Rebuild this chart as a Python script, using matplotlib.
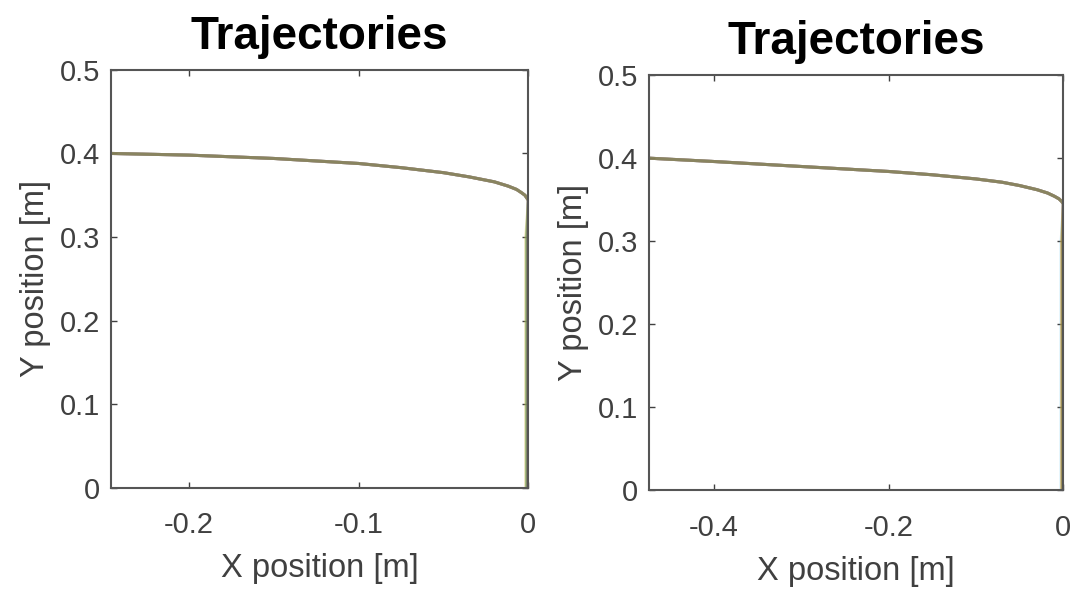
import numpy as np
import matplotlib.pyplot as plt

plt.rcParams['font.family'] = ['Liberation Sans', 'DejaVu Sans']
plt.rcParams['axes.unicode_minus'] = False

# left panel: shared approach curve (x, y) and the final drop near x = 0
left_curve_x = [-0.246, -0.2, -0.15, -0.1, -0.075, -0.05, -0.035, -0.02,
                -0.012, -0.007, -0.004, -0.002, -0.001, 0.0]
left_curve_y = [0.400, 0.398, 0.394, 0.388, 0.383, 0.377, 0.372, 0.366,
                0.361, 0.357, 0.353, 0.350, 0.347, 0.344]
left_drop_x = [-0.0003, -0.0012, 0.0, -0.0008, -0.0015, -0.0005, -0.001]

# right panel
right_curve_x = [-0.474, -0.4, -0.3, -0.2, -0.15, -0.1, -0.07, -0.05, -0.03,
                 -0.018, -0.01, -0.005, -0.002, 0.0]
right_curve_y = [0.400, 0.396, 0.390, 0.384, 0.380, 0.375, 0.371, 0.367, 0.362,
                 0.358, 0.354, 0.351, 0.348, 0.345]
right_drop_x = [-0.001, -0.0025, -0.0015, 0.0, -0.002, -0.0005, -0.001]

drop_y = [0.30, 0.20, 0.10, 0.0]

yticks = [0, 0.1, 0.2, 0.3, 0.4, 0.5]
ytick_labels = ['0', '0.1', '0.2', '0.3', '0.4', '0.5']
left_xticks = [-0.2, -0.1, 0]
left_xtick_labels = ['-0.2', '-0.1', '0']
right_xticks = [-0.4, -0.2, 0]
right_xtick_labels = ['-0.4', '-0.2', '0']

# drawn in this order, so the last ones sit on top
run_colors = ['#A2142F', '#4DBEEE', '#D95319', '#0072BD', '#EDB120', '#7E2F8E', '#77AC30']

fig = plt.figure(figsize=(10.73, 5.92), dpi=100)
ax1 = fig.add_axes([0.1034, 0.176, 0.389, 0.706])
ax2 = fig.add_axes([0.605, 0.172, 0.386, 0.701])


def draw_panel(ax, cx, cy, dx, xticks, xlabels, xmin):
    for c, d in zip(run_colors, dx):
        xs = list(cx) + [d] * len(drop_y)
        ys = list(cy) + drop_y
        ax.plot(xs, ys, color=c, lw=2.2, alpha=0.35, solid_joinstyle='round')
    ax.set_xlim(xmin, 0)
    ax.set_ylim(0, 0.5)
    ax.set_xticks(xticks)
    ax.set_xticklabels(xlabels)
    ax.set_yticks(yticks)
    ax.set_yticklabels(ytick_labels)
    ax.tick_params(direction='in', length=4, width=1, colors='#404040',
                   labelsize=21, top=True, right=True)
    ax.tick_params(axis='x', pad=17)
    ax.tick_params(axis='y', pad=8)
    for s in ax.spines.values():
        s.set_color('#555555')
        s.set_linewidth(1.5)
    ax.set_title('Trajectories', fontsize=33, fontweight='bold', pad=15)
    ax.set_xlabel('X position [m]', fontsize=23.5, color='#404040', labelpad=10)
    ax.set_ylabel('Y position [m]', fontsize=23.5, color='#404040', labelpad=6)


draw_panel(ax1, left_curve_x, left_curve_y, left_drop_x,
           left_xticks, left_xtick_labels, -0.246)
draw_panel(ax2, right_curve_x, right_curve_y, right_drop_x,
           right_xticks, right_xtick_labels, -0.474)

fig.savefig('out.png', dpi=100)
